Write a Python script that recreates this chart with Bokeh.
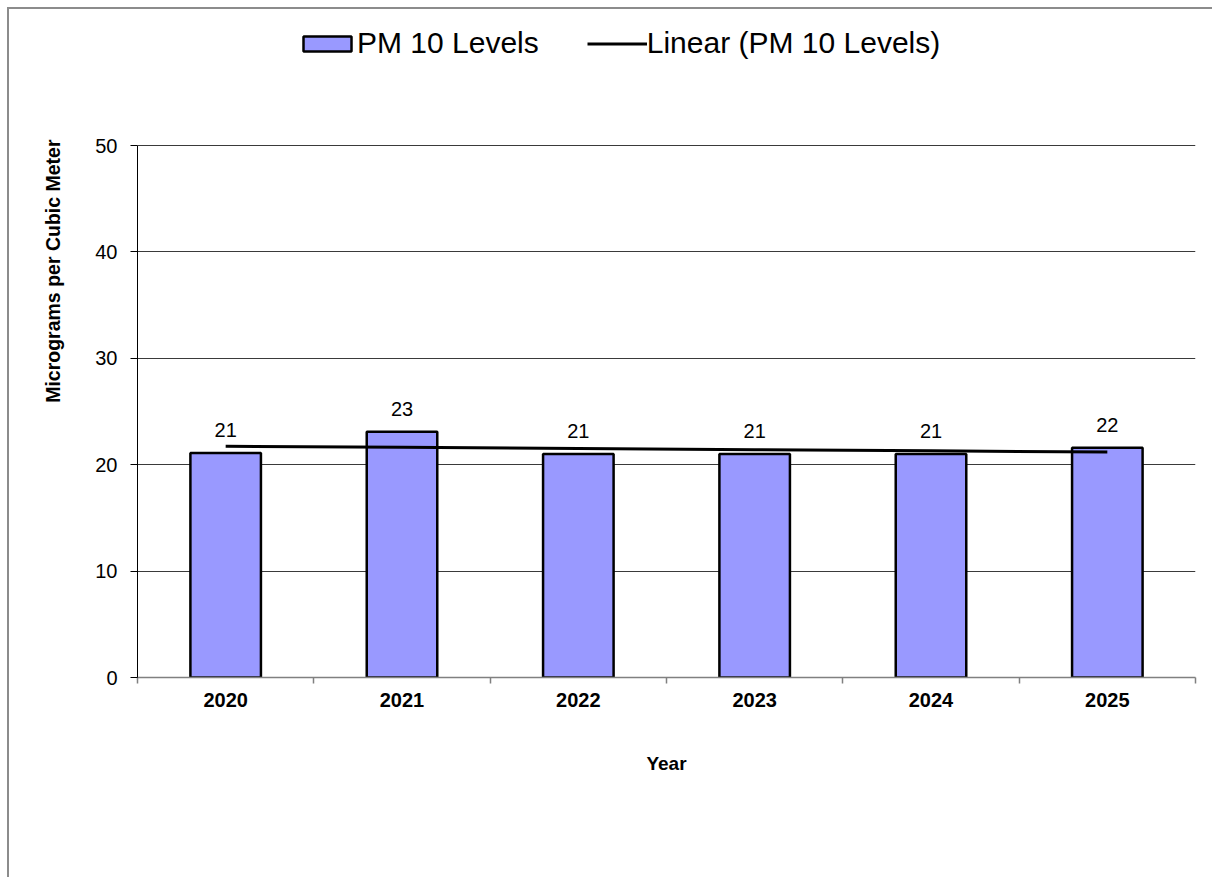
import numpy as np
from bokeh.plotting import figure
from bokeh.models import (ColumnDataSource, Range1d, FixedTicker, LabelSet, Title,
                          Legend, LegendItem)
from bokeh.core.properties import value
from bokeh.embed import file_html
from bokeh.resources import INLINE

# ---- data ----
years = ["2020", "2021", "2022", "2023", "2024", "2025"]
pm10 = [21.1, 23.1, 21.0, 21.0, 21.0, 21.6]
y_ticks = [0, 10, 20, 30, 40, 50]

FONT = "Liberation Sans"

idx = np.arange(len(years))
centers = idx + 0.5
slope, intercept = np.polyfit(idx, pm10, 1)
trend = slope * idx + intercept

src = ColumnDataSource(dict(x=centers, top=pm10,
                            label=[f"{round(v)}" for v in pm10]))
tsrc = ColumnDataSource(dict(x=centers, y=trend))

# frame spans upward to hold the legend; value axis bounded to 0..50
p = figure(width=1205, height=870, output_backend="svg", toolbar_location=None,
           x_range=Range1d(0, len(years)), y_range=Range1d(0, 61.75),
           min_border_left=128, min_border_right=19,
           min_border_top=11, min_border_bottom=202)
p.styles = {"border-left": "2px solid #8c8c8c", "border-top": "2px solid #8c8c8c",
            "margin-left": "7px", "margin-top": "7px"}
p.outline_line_color = None
p.background_fill_color = "white"
p.border_fill_color = "white"

# grid
p.xgrid.grid_line_color = None
p.ygrid.ticker = FixedTicker(ticks=y_ticks)
p.ygrid.grid_line_color = "#3a3a3a"
p.ygrid.grid_line_width = 1

# bars
bars = p.vbar(x="x", top="top", width=0.4, bottom=0, source=src,
              fill_color="#9999FF", line_color="black", line_width=2.5)

# trend line
trend_r = p.line(x="x", y="y", source=tsrc, line_color="black", line_width=3)

# data labels
labels = LabelSet(x="x", y="top", text="label", source=src, y_offset=16,
                  text_align="center", text_baseline="alphabetic",
                  text_font=value(FONT), text_font_size=value("20px"),
                  text_color="black")
p.add_layout(labels)

# x axis
xa = p.xaxis[0]
xa.ticker = FixedTicker(ticks=list(centers), minor_ticks=list(range(len(years) + 1)))
xa.major_label_overrides = {float(c): y for c, y in zip(centers, years)}
xa.major_tick_line_color = None
xa.major_tick_out = 0
xa.major_tick_in = 0
xa.minor_tick_line_color = "#808080"
xa.minor_tick_out = 6
xa.minor_tick_in = 0
xa.minor_tick_line_width = 1.5
xa.axis_line_color = "#808080"
xa.axis_line_width = 1.5
xa.major_label_text_font = FONT
xa.major_label_text_font_style = "bold"
xa.major_label_text_font_size = "20px"
xa.major_label_text_color = "black"
xa.major_label_standoff = 9
xa.axis_label = "Year"
xa.axis_label_text_font = FONT
xa.axis_label_text_font_style = "bold"
xa.axis_label_text_font_size = "19px"
xa.axis_label_text_color = "black"
xa.axis_label_standoff = 43

# y axis
ya = p.yaxis[0]
ya.ticker = FixedTicker(ticks=y_ticks)
ya.bounds = (y_ticks[0], y_ticks[-1])
ya.axis_line_color = "black"
ya.major_tick_line_color = "black"
ya.major_tick_out = 7
ya.major_tick_in = 0
ya.minor_tick_line_color = None
ya.major_label_text_font = FONT
ya.major_label_text_font_size = "20px"
ya.major_label_text_color = "black"
ya.major_label_standoff = 13

ytitle = Title(text="Micrograms per Cubic Meter", align="right", offset=119,
               standoff=58, text_font=FONT, text_font_style="bold",
               text_font_size="19.5px", text_color="black")
p.add_layout(ytitle, "left")

# legend
legend = Legend(items=[LegendItem(label="PM 10 Levels", renderers=[bars]),
                       LegendItem(label="Linear (PM 10 Levels)", renderers=[trend_r])],
                orientation="horizontal", location=(160, 617),
                glyph_width=60, glyph_height=19, label_standoff=0, spacing=48,
                padding=0, margin=0, border_line_color=None,
                background_fill_alpha=0, label_text_color="black",
                label_text_font=FONT, label_text_font_size="30px")
p.add_layout(legend, "center")

open("out.html", "w").write(file_html(p, INLINE))
